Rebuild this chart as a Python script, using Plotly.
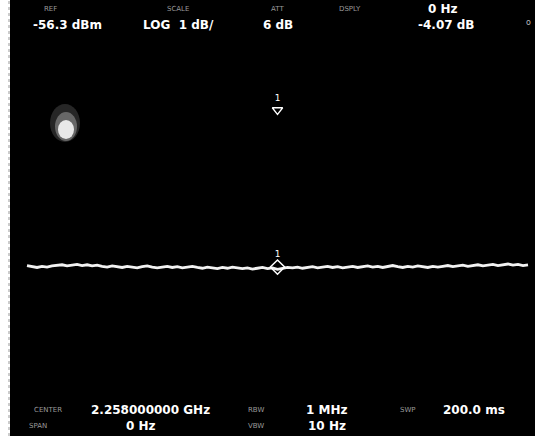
import plotly.graph_objects as go

# ---- data (zero-span sweep, 200 ms, trace level in dBm) ----
sweep_ms = [i * 2 for i in range(101)]
trace_dbm = [
    -62.66, -62.69, -62.71, -62.68, -62.70, -62.67, -62.66, -62.64, -62.67, -62.65,
    -62.63, -62.66, -62.64, -62.67, -62.65, -62.68, -62.70, -62.67, -62.69, -62.71,
    -62.68, -62.70, -62.72, -62.69, -62.67, -62.70, -62.72, -62.70, -62.68, -62.71,
    -62.69, -62.72, -62.70, -62.68, -62.71, -62.73, -62.70, -62.72, -62.74, -62.71,
    -62.73, -62.70, -62.72, -62.74, -62.72, -62.75, -62.73, -62.71, -62.74, -62.72,
    -62.76, -62.73, -62.71, -62.72, -62.70, -62.73, -62.71, -62.69, -62.72, -62.70,
    -62.68, -62.71, -62.69, -62.72, -62.70, -62.68, -62.71, -62.69, -62.67, -62.70,
    -62.68, -62.71, -62.69, -62.66, -62.69, -62.71, -62.68, -62.70, -62.67, -62.69,
    -62.71, -62.68, -62.70, -62.68, -62.66, -62.69, -62.67, -62.65, -62.68, -62.66,
    -62.64, -62.67, -62.65, -62.63, -62.66, -62.64, -62.62, -62.65, -62.63, -62.66,
    -62.64,
]
marker_ms = [100]
marker_dbm = [-62.70]
ref_marker_dbm = [-58.63]

top_labels = ["REF", "SCALE", "ATT", "DSPLY"]
top_values = ["-56.3 dBm", "LOG  1 dB/", "6 dB", "-4.07 dB"]
bottom_labels = ["CENTER", "SPAN", "RBW", "VBW", "SWP"]
bottom_values = ["2.258000000 GHz", "0 Hz", "1 MHz", "10 Hz", "200.0 ms"]

W, H = 540, 440
X0_MS, X1_MS = -10.78, 204.79
Y_TOP, Y_BOT = -55.78, -67.18
VAL_FONT = dict(color="white", size=12, family="DejaVu Sans")
LAB_FONT = dict(color="#9a9a9a", size=7, family="DejaVu Sans")

fig = go.Figure()

fig.add_trace(go.Scatter(
    x=sweep_ms, y=trace_dbm, mode="lines",
    line=dict(color="#f2f2f2", width=2.8), hoverinfo="skip", showlegend=False))

fig.add_trace(go.Scatter(
    x=marker_ms, y=marker_dbm, mode="markers+text",
    marker=dict(symbol="diamond-open", size=11, color="white", line=dict(width=1.5, color="white")),
    text=["1"], textposition="top center",
    textfont=dict(color="white", size=9, family="DejaVu Sans"),
    hoverinfo="skip", showlegend=False))

fig.add_trace(go.Scatter(
    x=marker_ms, y=ref_marker_dbm, mode="markers+text",
    marker=dict(symbol="triangle-down-open", size=9, color="white", line=dict(width=1.3, color="white")),
    text=["1"], textposition="top center",
    textfont=dict(color="white", size=9, family="DejaVu Sans"),
    hoverinfo="skip", showlegend=False))

def px(x):
    return x / W

def py(y):
    return 1 - y / H

def add_text(t, x, y, font):
    return dict(text=t, x=px(x), y=py(y), xref="paper", yref="paper", showarrow=False,
                xanchor="center", yanchor="middle", font=font)

ann = []
for t, xp in zip(top_labels, [50, 178, 277, 350]):
    ann.append(add_text(t, xp, 9, LAB_FONT))
ann.append(add_text("<b>0 Hz</b>", 443, 9, VAL_FONT))
for t, xp in zip(top_values, [67, 178, 278, 446]):
    ann.append(add_text("<b>" + t + "</b>", xp, 25, VAL_FONT))
ann.append(add_text("o", 528, 23, dict(color="#bbbbbb", size=8, family="DejaVu Sans")))

for t, xp, yp in zip(bottom_labels, [48, 38, 256, 256, 408], [410, 426, 410, 426, 410]):
    ann.append(add_text(t, xp, yp, LAB_FONT))
for t, xp, yp in zip(bottom_values, [150, 141, 327, 327, 474], [410, 426, 410, 426, 410]):
    ann.append(add_text("<b>" + t + "</b>", xp, yp, VAL_FONT))

shapes = [
    dict(type="rect", xref="paper", yref="paper", x0=0, x1=px(10), y0=0, y1=1,
         fillcolor="white", line=dict(width=0), layer="above"),
    dict(type="rect", xref="paper", yref="paper", x0=px(535), x1=1, y0=0, y1=1,
         fillcolor="white", line=dict(width=0), layer="above"),
    dict(type="rect", xref="paper", yref="paper", x0=0, x1=1, y0=0, y1=py(436),
         fillcolor="white", line=dict(width=0), layer="above"),
    dict(type="line", xref="paper", yref="paper", x0=px(9), x1=px(9), y0=py(436), y1=1,
         line=dict(color="#999999", width=1, dash="dot"), layer="above"),
    dict(type="circle", xref="paper", yref="paper", x0=px(50), x1=px(80), y0=py(142), y1=py(104),
         fillcolor="rgba(255,255,255,0.15)", line=dict(width=0)),
    dict(type="circle", xref="paper", yref="paper", x0=px(55), x1=px(77), y0=py(141), y1=py(112),
         fillcolor="rgba(255,255,255,0.3)", line=dict(width=0)),
    dict(type="circle", xref="paper", yref="paper", x0=px(58), x1=px(74), y0=py(139), y1=py(120),
         fillcolor="rgba(255,255,255,0.85)", line=dict(width=0)),
]

fig.update_layout(
    width=W, height=H, margin=dict(l=0, r=0, t=0, b=0),
    paper_bgcolor="black", plot_bgcolor="black",
    xaxis=dict(range=[X0_MS, X1_MS], visible=False, fixedrange=True),
    yaxis=dict(range=[Y_BOT, Y_TOP], visible=False, fixedrange=True),
    annotations=ann, shapes=shapes, showlegend=False,
)

fig.write_html("out.html", config={"displayModeBar": False},
               post_script="document.body.style.margin='0';")
